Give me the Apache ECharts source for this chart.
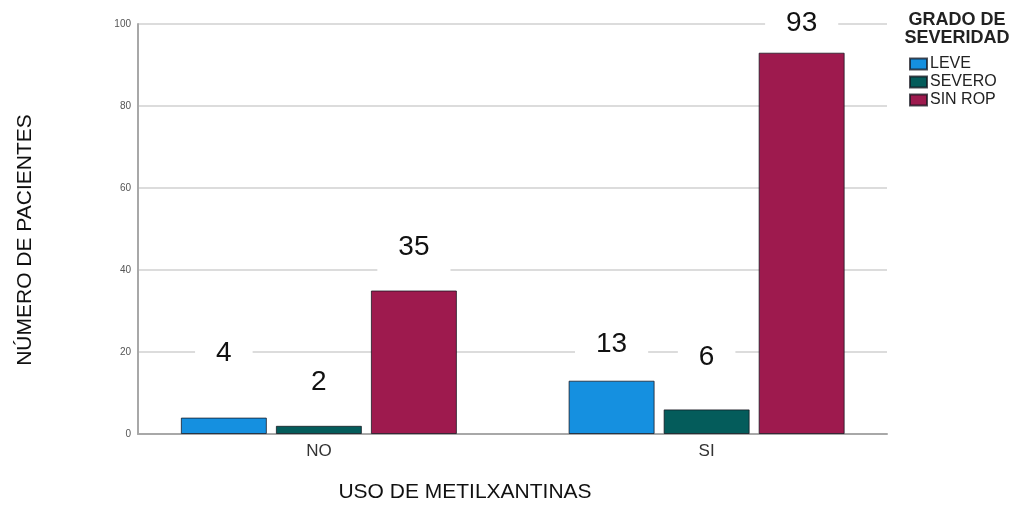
<!DOCTYPE html>
<html>
<head>
<meta charset="utf-8">
<script src="https://cdn.jsdelivr.net/npm/echarts@6/dist/echarts.min.js"></script>
<style>
html,body{margin:0;padding:0;background:#fff;}
#chart{width:1020px;height:506px;}
</style>
</head>
<body>
<div id="chart"></div>
<script>
// ---- data ----
const categories = ['NO', 'SI'];
const seriesNames = ['LEVE', 'SEVERO', 'SIN ROP'];
const leve = [4, 13];
const severo = [2, 6];
const sinRop = [35, 93];
const yTicks = [0, 20, 40, 60, 80, 100];

// ---- presentation ----
const colors = ['#1590e0', '#045c5b', '#9e1a4e'];
const labelLift = [[36, 8], [16, 24], [15, 1]];
const FONT = '"Liberation Sans", Arial, sans-serif';

const values = [leve, severo, sinRop];
const series = seriesNames.map((name, s) => ({
  name: name,
  type: 'bar',
  xAxisIndex: 1,
  yAxisIndex: 1,
  barWidth: 86,
  barGap: '10.5%',
  itemStyle: { color: colors[s], borderColor: 'rgba(20,20,30,0.75)', borderWidth: 1 },
  label: {
    show: true,
    position: 'top',
    fontFamily: FONT,
    fontSize: 28,
    lineHeight: 28,
    color: '#111',
    backgroundColor: '#ffffff',
    padding: [14, 21]
  },
  data: values[s].map((v, i) => ({ value: v, label: { distance: labelLift[s][i] } }))
}));

const chart = echarts.init(document.getElementById('chart'), null, { renderer: 'canvas' });
chart.setOption({
  animation: false,
  backgroundColor: '#ffffff',
  textStyle: { fontFamily: FONT },
  title: {
    text: 'GRADO DE\nSEVERIDAD',
    left: 957,
    top: 11,
    textAlign: 'center',
    padding: 0,
    textStyle: { fontFamily: FONT, fontSize: 18, fontWeight: 'bold', lineHeight: 18, color: '#222' }
  },
  legend: {
    orient: 'vertical',
    left: 909,
    top: 56,
    padding: 0,
    itemWidth: 17,
    itemHeight: 11,
    itemGap: 2,
    icon: 'rect',
    data: seriesNames,
    textStyle: { fontFamily: FONT, fontSize: 16, lineHeight: 16, color: '#222', padding: [0, 0, 0, -2] }
  },
  grid: [
    { left: 138, right: 133, top: 24, bottom: 72 },
    { left: 125, right: 119.5, top: 24, bottom: 72 }
  ],
  xAxis: [
    {
      gridIndex: 0, type: 'category', data: categories,
      axisLine: { show: true, lineStyle: { color: '#a8a8a8', width: 2 } },
      axisTick: { show: false }, axisLabel: { show: false }, splitLine: { show: false }
    },
    {
      gridIndex: 1, type: 'category', data: categories,
      axisLine: { show: false }, axisTick: { show: false },
      axisLabel: { show: true, fontFamily: FONT, fontSize: 17, color: '#333', margin: 9 }
    }
  ],
  yAxis: [
    {
      gridIndex: 0, type: 'value', min: 0, max: 100, interval: 20,
      axisLine: { show: true, lineStyle: { color: '#a8a8a8', width: 2 } },
      axisTick: { show: false },
      axisLabel: {
        fontFamily: FONT, fontSize: 10, color: '#555', margin: 7,
        formatter: v => (yTicks.indexOf(v) >= 0 ? String(v) : '')
      },
      splitLine: { show: true, lineStyle: { color: '#dcdcdc', width: 2 } }
    },
    { gridIndex: 1, type: 'value', min: 0, max: 100, interval: 20, show: false, splitLine: { show: false } }
  ],
  graphic: [
    {
      type: 'text', x: 25, y: 240, rotation: Math.PI / 2,
      style: { text: 'NÚMERO DE PACIENTES', fontFamily: FONT, fontSize: 21, fill: '#111', align: 'center', verticalAlign: 'middle' }
    },
    {
      type: 'text', x: 465, y: 492,
      style: { text: 'USO DE METILXANTINAS', fontFamily: FONT, fontSize: 21, fill: '#111', align: 'center', verticalAlign: 'middle' }
    }
  ],
  series: series
});
</script>
</body>
</html>
